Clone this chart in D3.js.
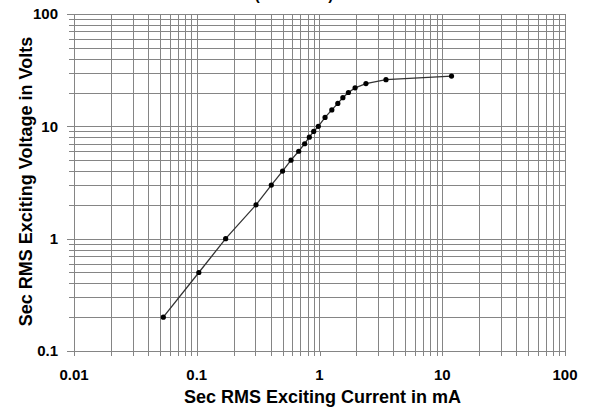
<!DOCTYPE html>
<html>
<head>
<meta charset="utf-8">
<script src="https://cdn.jsdelivr.net/npm/d3@7"></script>
<style>
  body { margin: 0; background: #fff; }
  svg { display: block; }
  text { font-family: "Liberation Sans", Arial, sans-serif; font-weight: bold; fill: #000; }
  .grid line { stroke: #858585; stroke-width: 1; shape-rendering: crispEdges; }
  .axis path { display: none; }
  .axis line { stroke: #858585; shape-rendering: crispEdges; }
</style>
</head>
<body>
<svg class="chart"></svg>
<script>
// excitation curve, secondary current (mA) vs voltage (V)
var current = [0.0534, 0.104, 0.172, 0.304, 0.405, 0.5, 0.586, 0.677, 0.757, 0.826, 0.897, 0.978,
               1.11, 1.26, 1.41, 1.55, 1.72, 1.95, 2.39, 3.48, 11.9];
var voltage = [0.2, 0.5, 1, 2, 3, 4, 5, 6, 7, 8, 9, 10,
               12, 14, 16, 18, 20, 22, 24, 26, 28];

var xTicks = [0.01, 0.1, 1, 10, 100];
var yTicks = [0.1, 1, 10, 100];

// two line title, first line falls above the page
var titleLines = ["Excitation Curve", "(Full Ratio)"];
var xTitle = "Sec RMS Exciting Current in mA";
var yTitle = "Sec RMS Exciting Voltage in Volts";

var margin = {top: 14, right: 27, bottom: 57, left: 74},
    width = 592 - margin.left - margin.right,
    height = 408 - margin.top - margin.bottom;

var x = d3.scaleLog().domain([0.01, 100]).range([0, width]);
var y = d3.scaleLog().domain([0.1, 100]).range([height, 0]);

function minors(majors) {
  var out = [];
  for (var i = 0; i < majors.length; i++) {
    for (var k = 1; k < 10; k++) {
      var v = majors[i] * k;
      if (v <= majors[majors.length - 1] * 1.0001) out.push(v);
    }
  }
  return out;
}
var xGrid = minors(xTicks);
var yGrid = minors(yTicks);

var svg = d3.select(".chart")
    .attr("width", 592)
    .attr("height", 408);

svg.selectAll(".title")
    .data(titleLines)
  .enter().append("text")
    .attr("class", "title")
    .attr("x", 294)
    .attr("y", function(d, i) { return (i - 1) * 18; })
    .attr("text-anchor", "middle")
    .style("font-size", "15px")
    .text(function(d) { return d; });

var chart = svg.append("g")
    .attr("transform", "translate(" + margin.left + "," + margin.top + ")");

var grid = chart.append("g").attr("class", "grid");

grid.selectAll(".vx")
    .data(xGrid)
  .enter().append("line")
    .attr("x1", function(d) { return Math.round(x(d)) + 0.5; })
    .attr("x2", function(d) { return Math.round(x(d)) + 0.5; })
    .attr("y1", 0)
    .attr("y2", height);

grid.selectAll(".hy")
    .data(yGrid)
  .enter().append("line")
    .attr("y1", function(d) { return Math.round(y(d)) + 0.5; })
    .attr("y2", function(d) { return Math.round(y(d)) + 0.5; })
    .attr("x1", 0)
    .attr("x2", width);

// small ticks poking out of the frame
chart.append("g")
    .attr("class", "axis")
    .attr("transform", "translate(0," + height + ")")
    .call(d3.axisBottom(x).tickValues(xGrid).tickSize(5).tickFormat(""));

chart.append("g")
    .attr("class", "axis")
    .call(d3.axisLeft(y).tickValues(yGrid).tickSize(5).tickFormat(""));

chart.append("g")
    .attr("class", "axis")
    .call(d3.axisLeft(y).tickValues(yTicks).tickSize(7).tickFormat(""));

// tick labels
chart.selectAll(".xlab")
    .data(xTicks)
  .enter().append("text")
    .attr("x", function(d) { return x(d); })
    .attr("y", height + 29)
    .attr("text-anchor", "middle")
    .style("font-size", "15px")
    .text(function(d) { return d; });

chart.selectAll(".ylab")
    .data(yTicks)
  .enter().append("text")
    .attr("x", -16)
    .attr("y", function(d) { return y(d); })
    .attr("dy", "0.36em")
    .attr("text-anchor", "end")
    .style("font-size", "15px")
    .text(function(d) { return d; });

// axis titles
svg.append("text")
    .attr("x", margin.left + width / 2 + 3)
    .attr("y", 403)
    .attr("text-anchor", "middle")
    .style("font-size", "18px")
    .text(xTitle);

svg.append("text")
    .attr("transform", "translate(31.5," + (margin.top + height / 2 - 1) + ") rotate(-90)")
    .attr("text-anchor", "middle")
    .style("font-size", "18px")
    .text(yTitle);

// curve
var pts = current.map(function(c, i) { return [c, voltage[i]]; });

var line = d3.line()
    .x(function(d) { return x(d[0]); })
    .y(function(d) { return y(d[1]); });

chart.append("path")
    .datum(pts)
    .attr("fill", "none")
    .attr("stroke", "#333")
    .attr("stroke-width", 1.3)
    .attr("d", line);

chart.selectAll(".dot")
    .data(pts)
  .enter().append("circle")
    .attr("class", "dot")
    .attr("cx", function(d) { return x(d[0]); })
    .attr("cy", function(d) { return y(d[1]); })
    .attr("r", 2.6)
    .attr("fill", "#000");
</script>
</body>
</html>
